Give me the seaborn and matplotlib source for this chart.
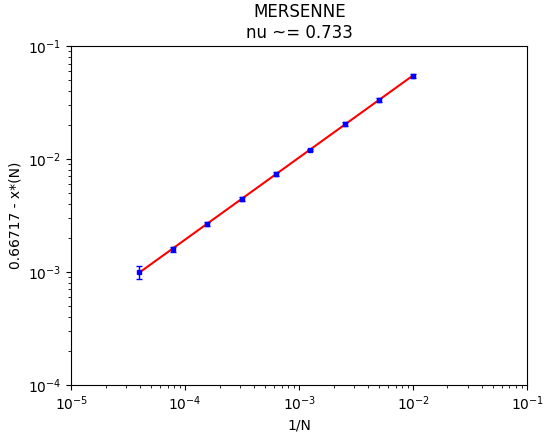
import numpy as np
import pandas as pd
import matplotlib
matplotlib.use("Agg")
import matplotlib.pyplot as plt
import seaborn as sns

# ---- data ----
sizes = [100, 200, 400, 800, 1600, 3200, 6400, 12800, 25600]
inv_n = [1.0 / n for n in sizes]
gap = [0.0546, 0.0333, 0.0204, 0.0120, 0.00741, 0.00443, 0.00267, 0.00159, 0.000993]
gap_err = [0.0025, 0.0013, 0.0007, 0.0003, 0.0003, 0.00015, 0.00012, 0.00008, 0.00013]
x_star = 0.66717
nu = 0.733

# plain matplotlib look, no seaborn theme
plt.rcParams["font.family"] = ["DejaVu Sans"]

fig = plt.figure(figsize=(5.44, 4.34), dpi=100)
ax = fig.add_axes([0.131, 0.113, 0.838, 0.781])

# power-law fit in log-log space
slope, icpt = np.polyfit(np.log10(inv_n), np.log10(gap), 1)
fit = pd.DataFrame({"x": inv_n, "y": 10 ** (icpt + slope * np.log10(inv_n))})
sns.lineplot(data=fit, x="x", y="y", color="red", linewidth=1.5, ax=ax, zorder=2)

ax.errorbar(inv_n, gap, yerr=gap_err, fmt="bs", markersize=3.5, capsize=2,
            elinewidth=1, ecolor="blue", zorder=3)

ax.set_xscale("log")
ax.set_yscale("log")
ax.set_xlim(1e-5, 1e-1)
ax.set_ylim(1e-4, 1e-1)
ax.set_xlabel("1/N")
ax.set_ylabel(f"{x_star} - x*(N)")
ax.set_title(f"MERSENNE\nnu ~= {nu}")

plt.savefig("out.png", dpi=100)
plt.close()
